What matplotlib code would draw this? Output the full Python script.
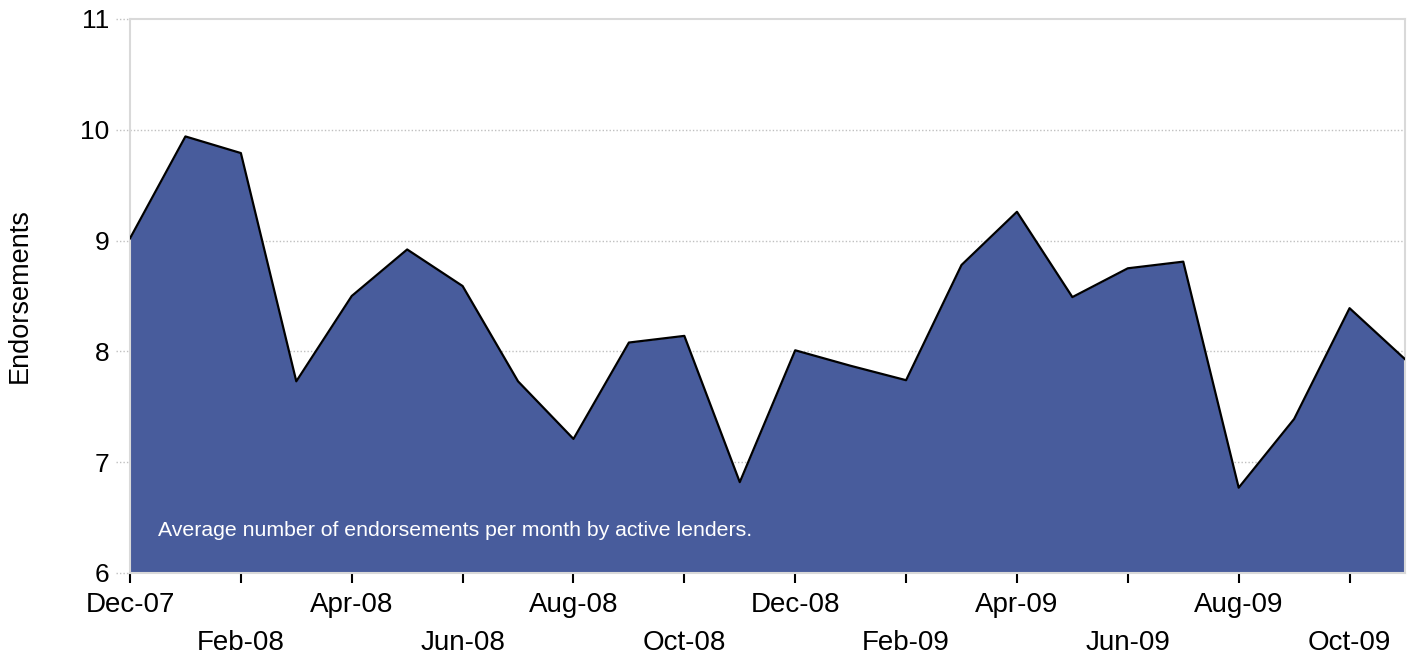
import matplotlib.pyplot as plt
import numpy as np

# Monthly averages, Dec-07 .. Nov-09
months = ["Dec-07", "Jan-08", "Feb-08", "Mar-08", "Apr-08", "May-08", "Jun-08",
          "Jul-08", "Aug-08", "Sep-08", "Oct-08", "Nov-08", "Dec-08", "Jan-09",
          "Feb-09", "Mar-09", "Apr-09", "May-09", "Jun-09", "Jul-09", "Aug-09",
          "Sep-09", "Oct-09", "Nov-09"]
endorsements = [9.02, 9.94, 9.79, 7.73, 8.50, 8.92, 8.59, 7.73, 7.21, 8.08,
                8.14, 6.82, 8.01, 7.87, 7.74, 8.78, 9.26, 8.49, 8.75, 8.81,
                6.77, 7.39, 8.39, 7.93]
y_ticks = [6, 7, 8, 9, 10, 11]

plt.rcParams['font.family'] = ['Liberation Sans', 'DejaVu Sans']

fig = plt.figure(figsize=(14.11, 6.62), dpi=100)
ax = fig.add_axes([130 / 1411, 1 - 573 / 662, 1275 / 1411, 554 / 662])

x = np.arange(len(months))
ax.fill_between(x, 6, endorsements, color='#485c9c', linewidth=0, zorder=2)
ax.plot(x, endorsements, color='black', linewidth=1.6, zorder=3)

ax.set_xlim(0, len(months) - 1)
ax.set_ylim(6, 11)

# dotted grid lines that reach out past the axis like ticks
for v in y_ticks[1:-1]:
    ax.plot([-0.011, 1], [v, v], transform=ax.get_yaxis_transform(),
            color='#c0c0c0', linestyle=(0, (1, 1.5)), linewidth=1,
            clip_on=False, zorder=1)
for v in [6, 11]:
    ax.plot([-0.011, 0], [v, v], transform=ax.get_yaxis_transform(),
            color='#c0c0c0', linestyle=(0, (1, 1.5)), linewidth=1,
            clip_on=False, zorder=1)

ax.set_yticks(y_ticks)
ax.set_yticklabels([str(v) for v in y_ticks], fontsize=19)
ax.tick_params(axis='y', length=0, pad=15)

ax.set_xticks(x[::2])
ax.set_xticklabels(months[::2], fontsize=20)
ax.tick_params(axis='x', length=7, width=1.5, color='black', pad=7)
for i, tick in enumerate(ax.xaxis.get_major_ticks()):
    if i % 2 == 1:
        tick.set_pad(34)

for side in ['left', 'top', 'right', 'bottom']:
    ax.spines[side].set_color('#d9d9d9')
    ax.spines[side].set_linewidth(1.5)

ax.set_ylabel("Endorsements", fontsize=19.5)
ax.yaxis.set_label_coords(-(130 - 33) / 1275, 0.5)

ax.text(158, 662 - 530, "Average number of endorsements per month by active lenders.",
        transform=None, color='white', fontsize=15.3, va='center', ha='left',
        zorder=4)

fig.savefig("out.png", dpi=100)
